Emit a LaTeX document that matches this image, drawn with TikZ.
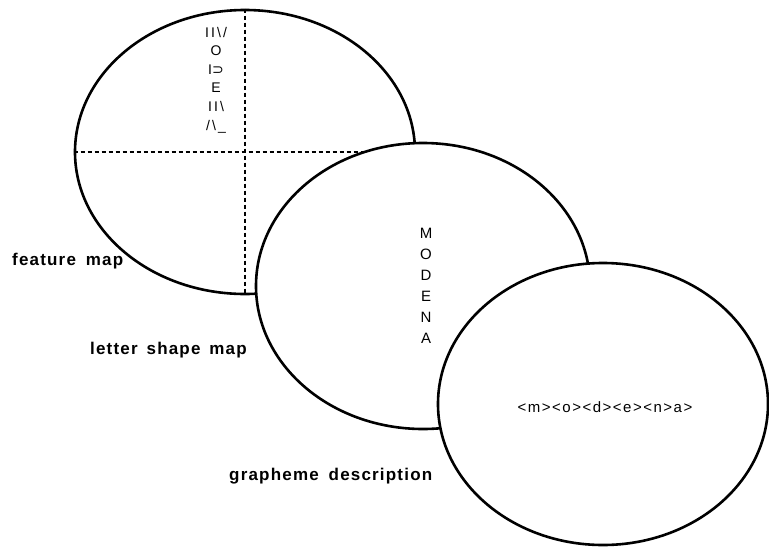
\documentclass[tikz,border=0pt]{standalone}
\usepackage{fontspec}
\setmainfont{Liberation Sans}
\newfontfamily\symf{DejaVu Sans}
\usetikzlibrary{shapes.geometric}
\begin{document}
\begin{tikzpicture}[x=1pt,y=-1pt]
\tikzset{
  mapshape/.style={ellipse, draw=black, line width=2.6pt, fill=white, inner sep=0pt},
  guide/.style={line width=1.6pt, dash pattern=on 4pt off 3pt},
  lbl/.style={font=\fontsize{17}{19}\selectfont\bfseries\addfontfeatures{LetterSpace=7}, anchor=base west, inner sep=0pt},
}
\useasboundingbox (0,0) rectangle (769,547);
% feature map
\node[mapshape, minimum width=340pt, minimum height=284pt] (e1) at (245,152) {};
\draw[guide] (e1.west) -- (e1.east);
\draw[guide] (e1.north) -- (e1.south);
\node[font=\fontsize{14}{18.6}\selectfont\addfontfeatures{LetterSpace=15}, align=center, inner sep=0pt] (feat) at (216,80)
  {II\textbackslash/\\O\\I{\symf ⊃}\\E\\II\textbackslash\\/\textbackslash\_};
% letter shape map
\node[mapshape, minimum width=334pt, minimum height=286pt] (e2) at (423,286) {};
\node[font=\fontsize{15}{21}\selectfont, align=center, inner sep=0pt] (modena) at (426,286)
  {M\\O\\D\\E\\N\\A};
% grapheme description
\node[mapshape, minimum width=330pt, minimum height=282pt] (e3) at (603,404) {};
\node[font=\fontsize{15}{17}\selectfont\addfontfeatures{LetterSpace=10}, inner sep=0pt] (graph) at (605,407)
  {<m><o><d><e><n>a>};
% labels
\node[lbl] (l1) at (12,265) {feature\hspace{4pt} map};
\node[lbl] (l2) at (90,354) {letter\hspace{3pt} shape\hspace{3pt} map};
\node[lbl] (l3) at (229,480) {grapheme\hspace{4pt} description};
\end{tikzpicture}
\end{document}
